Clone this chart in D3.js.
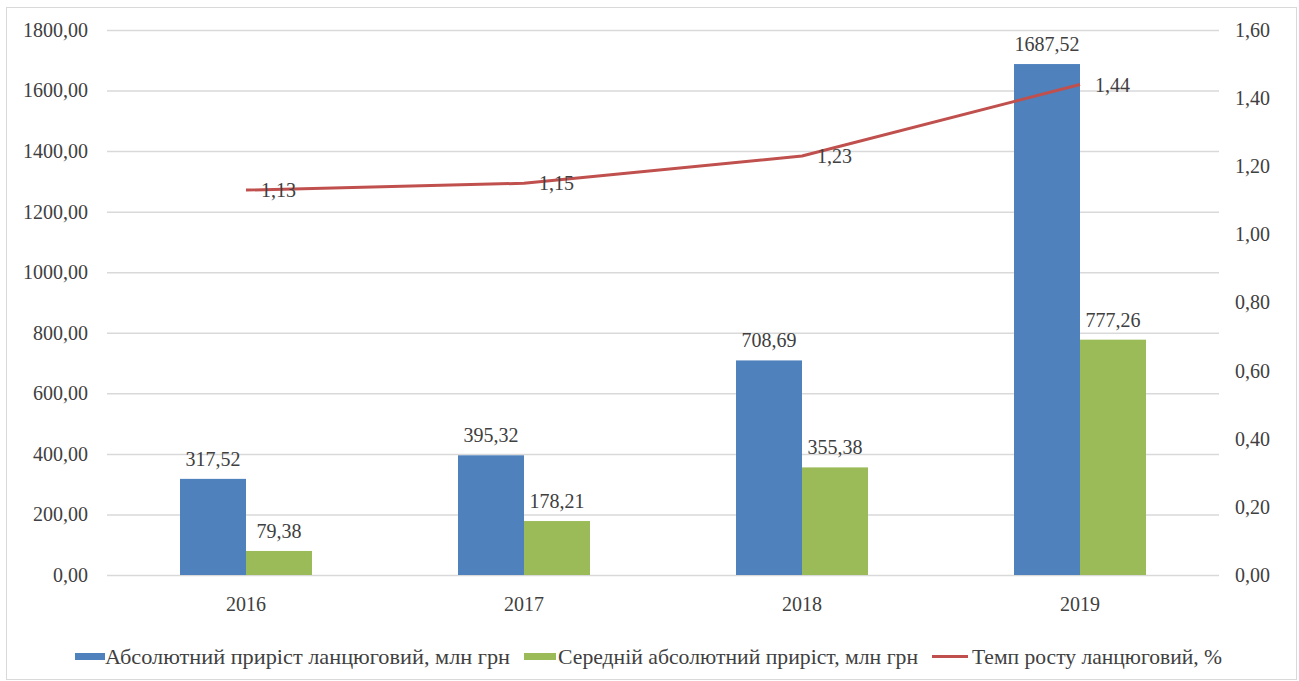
<!DOCTYPE html>
<html><head><meta charset="utf-8">
<script src="https://cdn.jsdelivr.net/npm/d3@7"></script>
<style>body{margin:0;background:#fff;} svg text{font-family:"Liberation Serif","Times New Roman","DejaVu Serif",serif !important;fill:#404040;}</style>
</head><body><svg id="c" width="1299" height="681"></svg>
<script>
const categories = ["2016","2017","2018","2019"];
const absGrowth = [317.52, 395.32, 708.69, 1687.52];
const avgGrowth = [79.38, 178.21, 355.38, 777.26];
const rate = [1.13, 1.15, 1.23, 1.44];
const leftTicks = [0,200,400,600,800,1000,1200,1400,1600,1800];
const rightTicks = [0,0.2,0.4,0.6,0.8,1.0,1.2,1.4,1.6];
const seriesNames = ["Абсолютний приріст ланцюговий, млн грн","Середній абсолютний приріст, млн грн","Темп росту ланцюговий, %"];
const colors = ["#4F81BD","#9BBB59","#C0504D"];

const svg = d3.select("#c");
const fmt = v => d3.format(".2f")(v).replace(".", ",");
const m = {l:107, r:1219, t:30, b:575};
svg.append("rect").attr("x",6.5).attr("y",7.5).attr("width",1290).attr("height",672).attr("fill","none").attr("stroke","#d9d9d9");

const x = d3.scaleBand().domain(categories).range([m.l,m.r]);
const y = d3.scaleLinear().domain([0,1800]).range([m.b,m.t]);
const y2 = d3.scaleLinear().domain([0,1.6]).range([m.b,m.t]);
const fs = 20;

svg.append("g").selectAll("line").data(leftTicks).join("line")
  .attr("x1",m.l).attr("x2",m.r).attr("y1",d=>y(d)+0.5).attr("y2",d=>y(d)+0.5)
  .attr("stroke","#d9d9d9").attr("stroke-width",1.5);

function styleAxis(g){
  g.select(".domain").remove();
  g.attr("font-family",null).attr("font-size",null);
  g.selectAll("text").style("font-size",fs+"px").attr("fill","#404040");
}
const gL = svg.append("g").attr("transform",`translate(88,0)`)
  .call(d3.axisLeft(y).tickValues(leftTicks).tickFormat(fmt).tickSize(0).tickPadding(0));
styleAxis(gL);
const gR = svg.append("g").attr("transform",`translate(1235,0)`)
  .call(d3.axisRight(y2).tickValues(rightTicks).tickFormat(fmt).tickSize(0).tickPadding(0));
styleAxis(gR);
const gB = svg.append("g").attr("transform",`translate(0,${m.b+22})`)
  .call(d3.axisBottom(x).tickSize(0).tickPadding(0));
styleAxis(gB);

const bw = x.bandwidth()*0.2374;
const xs = d3.scaleBand().domain([0,1]).range([0,2*bw]);
[absGrowth, avgGrowth].forEach((vals,si)=>{
  const g = svg.append("g");
  g.selectAll("rect").data(vals).join("rect")
    .attr("x",(d,i)=>x(categories[i])+x.bandwidth()/2-bw+xs(si))
    .attr("y",d=>y(d)).attr("width",bw).attr("height",d=>m.b-y(d))
    .attr("fill",colors[si]);
  g.selectAll("text").data(vals).join("text")
    .attr("x",(d,i)=>x(categories[i])+x.bandwidth()/2-bw+xs(si)+bw/2)
    .attr("y",d=>y(d)-13).attr("text-anchor","middle").style("font-size",fs+"px").text(fmt);
});

const line = d3.line().x((d,i)=>x(categories[i])+x.bandwidth()/2).y(d=>y2(d));
svg.append("path").datum(rate).attr("d",line).attr("fill","none").attr("stroke",colors[2]).attr("stroke-width",3).attr("stroke-linejoin","round");
svg.append("g").selectAll("text").data(rate).join("text")
  .attr("x",(d,i)=>x(categories[i])+x.bandwidth()/2+15).attr("y",d=>y2(d)).attr("dy","0.35em")
  .style("font-size",fs+"px").text(fmt);

const lg = svg.append("g");
const sw = [[75,30],[524,32],[932,36]];
const tx = [[105,405],[558,360],[972,250]];
seriesNames.forEach((n,i)=>{
  if(i<2) lg.append("rect").attr("x",sw[i][0]).attr("y",653).attr("width",sw[i][1]).attr("height",7).attr("fill",colors[i]);
  else lg.append("line").attr("x1",sw[i][0]).attr("x2",sw[i][0]+sw[i][1]).attr("y1",656.5).attr("y2",656.5).attr("stroke",colors[i]).attr("stroke-width",3);
  lg.append("text").attr("x",tx[i][0]).attr("y",657).attr("dy","0.35em").style("font-size","21px")
    .attr("textLength",tx[i][1]).attr("lengthAdjust","spacingAndGlyphs").text(n);
});
</script></body></html>
